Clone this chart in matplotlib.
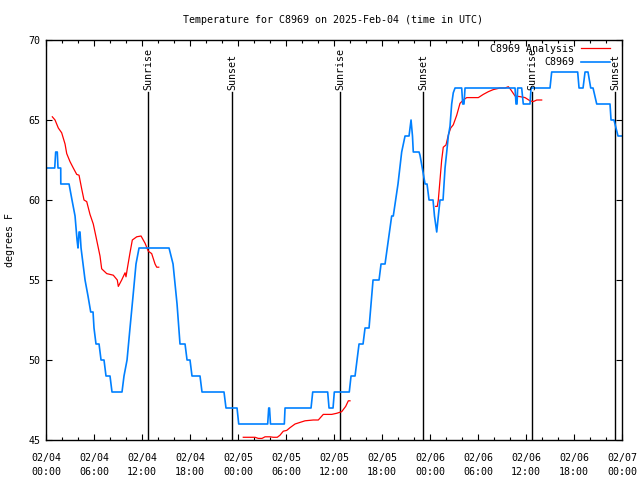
import numpy as np
import matplotlib
matplotlib.use('Agg')
import matplotlib.pyplot as plt

plt.rcParams['font.family'] = ['DejaVu Sans Mono']

# hours since 2025-02-04 00:00 UTC
obs_hours = [0.0, 1.09, 1.21, 1.41, 1.5, 1.84, 1.85, 2.88, 3.25, 3.63, 3.88, 4.0, 4.13, 4.25, 4.38,
             4.63, 4.88, 5.25, 5.59, 5.88, 6.0, 6.25, 6.63, 6.88, 7.25, 7.5, 8.0, 8.25, 9.5, 9.75,
             10.13, 10.5, 10.88, 11.25, 11.63, 15.38, 15.88, 16.38, 16.75, 17.38, 17.63, 18.0, 18.25,
             19.25, 19.5, 22.25, 22.5, 23.88, 24.09, 27.71, 27.84, 27.94, 28.06, 29.79, 29.88, 33.13,
             33.34, 35.21, 35.38, 35.88, 36.04, 37.91, 38.13, 38.63, 39.13, 39.63, 39.88, 40.38, 40.88,
             41.63, 41.88, 42.38, 43.21, 43.41, 44.0, 44.46, 44.88, 45.38, 45.63, 45.81, 45.91, 46.63,
             46.75, 47.0, 47.38, 47.63, 47.88, 48.38, 48.56, 48.84, 49.04, 49.25, 49.63, 49.88, 50.09,
             50.29, 50.5, 50.71, 50.91, 51.13, 51.96, 52.09, 52.25, 52.38, 58.63, 58.75, 58.88, 58.96,
             59.46, 59.66, 60.5, 60.63, 63.0, 63.21, 66.46, 66.63, 67.13, 67.38, 67.75, 68.09, 68.38,
             68.84, 70.5, 70.63, 71.0, 71.5, 72.0]
obs_temp = [62, 62, 63, 63, 62, 62, 61, 61, 60, 59, 57.5, 57, 58, 58, 57,
            56, 55, 54, 53, 53, 52, 51, 51, 50, 50, 49, 49, 48, 48, 49,
            50, 52, 54, 56, 57, 57, 56, 53.5, 51, 51, 50, 50, 49,
            49, 48, 48, 47, 47, 46, 46, 47, 47, 46, 46, 47, 47,
            48, 48, 47, 47, 48, 48, 49, 49, 51, 51, 52, 52, 55,
            55, 56, 56, 59, 59, 61, 63, 64, 64, 65, 64, 63, 63,
            62.8, 62.1, 61, 61, 60, 60, 59, 58, 59, 60, 60, 62, 63,
            64, 64.6, 66, 66.7, 67, 67, 66, 66, 67, 67, 66, 66, 67,
            67, 66, 66, 67, 67, 68, 68, 67, 67, 68, 68, 67, 67,
            66, 66, 65, 65, 64, 64]

ana1_hours = [0.79, 1.13, 1.54, 1.96, 2.38, 2.59, 3.0, 3.41, 3.84, 4.13, 4.46, 4.75, 5.09, 5.5, 5.91,
              6.25, 6.75, 6.96, 7.59, 8.41, 8.91, 9.04, 9.46, 9.88, 10.0, 10.16, 10.5, 10.79, 11.34,
              11.88, 12.38, 12.79, 13.21, 13.63, 13.84, 14.09]
ana1_temp = [65.2, 65.0, 64.5, 64.2, 63.5, 62.9, 62.4, 62.0, 61.6, 61.55, 60.7, 60.0, 59.9, 59.1, 58.5,
             57.7, 56.5, 55.7, 55.4, 55.3, 55.0, 54.6, 55.0, 55.45, 55.2, 55.7, 56.7, 57.5, 57.7,
             57.75, 57.3, 56.8, 56.65, 56.0, 55.8, 55.8]
ana2_hours = [24.66, 26.13, 26.54, 27.0, 27.38, 28.0, 28.41, 28.91, 29.25, 29.66, 30.09, 30.5, 31.13,
              31.75, 32.38, 33.41, 34.04, 34.66, 35.71, 36.34, 36.96, 37.46, 37.79, 38.0]
ana2_temp = [45.17, 45.17, 45.1, 45.1, 45.2, 45.2, 45.17, 45.17, 45.3, 45.55, 45.6, 45.77, 46.0,
             46.1, 46.2, 46.25, 46.25, 46.6, 46.6, 46.67, 46.77, 47.1, 47.45, 47.45]
ana3_hours = [48.71, 48.91, 49.04, 49.25, 49.46, 49.66, 50.0, 50.29, 50.59, 50.91, 51.34, 51.75, 52.16,
              52.59, 54.04, 54.66, 55.29, 55.91, 56.75, 57.38, 57.79, 58.09, 58.63, 59.25, 59.88,
              60.5, 60.91, 61.34, 61.96]
ana3_temp = [59.6, 59.6, 60.0, 61.25, 62.5, 63.3, 63.44, 64.06, 64.5, 64.7, 65.3, 66.04, 66.25,
             66.4, 66.4, 66.6, 66.77, 66.9, 67.0, 67.0, 67.08, 66.9, 66.5, 66.46, 66.4,
             66.2, 66.15, 66.25, 66.25]

sun_hours = [12.75, 23.25, 36.75, 47.125, 60.75, 71.125]
sun_names = ['Sunrise', 'Sunset', 'Sunrise', 'Sunset', 'Sunrise', 'Sunset']

tick_hours = list(range(0, 73, 6))
tick_labels = ['02/04\n00:00', '02/04\n06:00', '02/04\n12:00', '02/04\n18:00',
               '02/05\n00:00', '02/05\n06:00', '02/05\n12:00', '02/05\n18:00',
               '02/06\n00:00', '02/06\n06:00', '02/06\n12:00', '02/06\n18:00',
               '02/07\n00:00']

fig = plt.figure(figsize=(6.4, 4.8), dpi=100)
ax = fig.add_axes([46/640, 40/480, 576/640, 400/480])

for h, name in zip(sun_hours, sun_names):
    ax.axvline(h, ymin=0, ymax=0.87, color='black', lw=1.0)
    ax.text(h, 0.875, name, rotation=90, ha='center', va='bottom', fontsize=7.2,
            transform=ax.get_xaxis_transform())

ax.plot(ana1_hours, ana1_temp, color='#ff0000', lw=0.9, label='C8969 Analysis')
ax.plot(ana2_hours, ana2_temp, color='#ff0000', lw=0.9)
ax.plot(ana3_hours, ana3_temp, color='#ff0000', lw=0.9)
ax.plot(obs_hours, obs_temp, color='#0080ff', lw=1.2, label='C8969')

ax.set_xlim(0, 72)
ax.set_ylim(45, 70)
ax.set_xticks(tick_hours)
ax.set_xticklabels(tick_labels, fontsize=7.2, linespacing=1.6)
ax.set_xticks(np.arange(0, 73, 2), minor=True)
ax.set_yticks([45, 50, 55, 60, 65, 70])
ax.tick_params(axis='y', labelsize=7.2)
ax.tick_params(which='major', direction='in', top=True, right=True, length=4.5, width=0.8, pad=4)
ax.tick_params(which='minor', direction='in', top=True, right=True, length=2.5, width=0.8)
ax.tick_params(axis='x', which='major', pad=9)
for s in ax.spines.values():
    s.set_linewidth(1.0)

ax.legend(loc='upper right', bbox_to_anchor=(0.9826, 0.995), markerfirst=False, frameon=False,
          fontsize=7.2, handlelength=2.9, borderaxespad=0, borderpad=0.2,
          labelspacing=0.35, handletextpad=0.7)

fig.text(333/640, 1 - 20/480, 'Temperature for C8969 on 2025-Feb-04 (time in UTC)',
         ha='center', va='center', fontsize=7.2)
fig.text(10/640, 0.5, 'degrees F', rotation=90, ha='center', va='center', fontsize=7.2)

fig.savefig('out.png', dpi=100)
